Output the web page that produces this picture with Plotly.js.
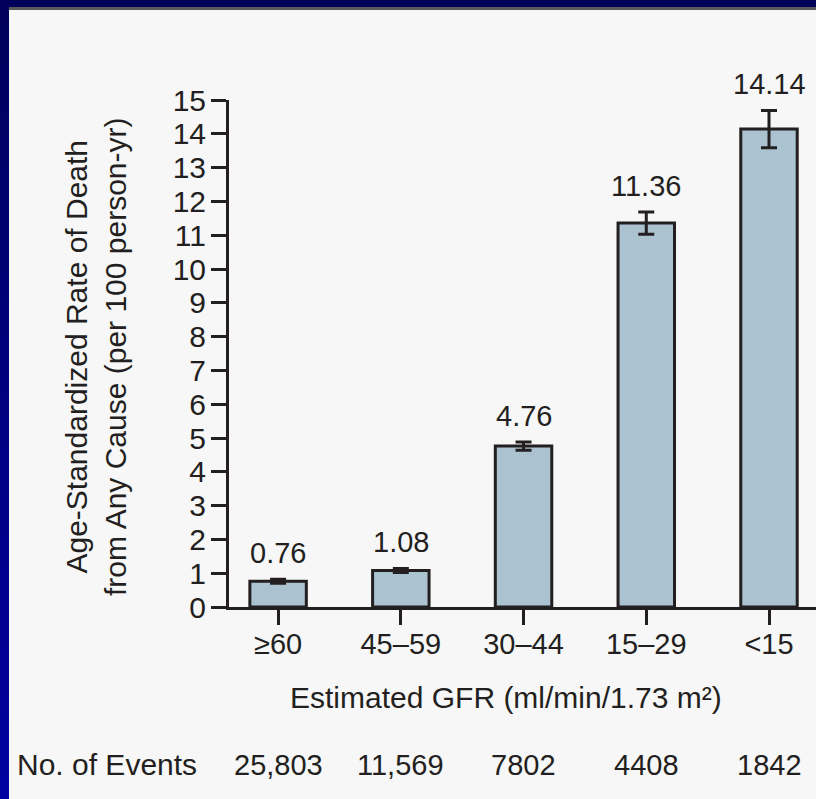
<!DOCTYPE html>
<html><head><meta charset="utf-8">
<script src="https://cdn.plot.ly/plotly-3.0.1.min.js"></script>
<style>
html,body{margin:0;padding:0;width:816px;height:799px;overflow:hidden;background:linear-gradient(to bottom,#00005a 0%,#000080 50%,#0000a0 100%);}
#topline{position:absolute;left:9px;top:7px;width:807px;height:3px;background:#5a5a5a;}
#chart{position:absolute;left:9px;top:10px;width:807px;height:789px;}
</style></head><body>
<div id="topline"></div><div id="chart"></div>
<script>
const categories = ["≥60", "45–59", "30–44", "15–29", "&lt;15"];
const rates = [0.76, 1.08, 4.76, 11.36, 14.14];
const rateErrors = [0.06, 0.06, 0.12, 0.33, 0.55];
const rateLabels = ["0.76", "1.08", "4.76", "11.36", "14.14"];
const eventCounts = ["25,803", "11,569", "7802", "4408", "1842"];
const yTickValues = [0,1,2,3,4,5,6,7,8,9,10,11,12,13,14,15];

const ink = "#231f20";
const font = "Liberation Sans, Arial, sans-serif";
const xIdx = categories.map((_, i) => i);

const trace = {
  type: "bar",
  x: xIdx,
  y: rates,
  width: 0.46,
  marker: {color: "#abc3d0", line: {color: ink, width: 3}},
  error_y: {type: "data", array: rateErrors, visible: true, color: ink, thickness: 3, width: 8},
  hoverinfo: "skip"
};

const annotations = [];
rates.forEach((v, i) => {
  annotations.push({x: i, y: v + rateErrors[i], xref: "x", yref: "y", text: rateLabels[i],
    showarrow: false, yanchor: "middle", yshift: 26, font: {family: font, size: 29, color: ink}});
  annotations.push({x: i, y: -0.311, xref: "x", yref: "paper", text: eventCounts[i],
    showarrow: false, yanchor: "middle", font: {family: font, size: 29, color: ink}});
});
annotations.push({x: -0.3646, y: -0.311, xref: "paper", yref: "paper", text: "No. of Events",
  showarrow: false, xanchor: "left", yanchor: "middle", font: {family: font, size: 30, color: ink}});
annotations.push({x: 1.86, y: -0.178, xref: "x", yref: "paper", text: "Estimated GFR (ml/min/1.73 m²)",
  showarrow: false, yanchor: "middle", font: {family: font, size: 30, color: ink}});
annotations.push({x: -0.2266, y: 0.495, xref: "paper", yref: "paper", textangle: -90,
  text: "Age-Standardized Rate of Death<br>from Any Cause (per 100 person-yr)",
  showarrow: false, xanchor: "center", yanchor: "middle", font: {family: font, size: 30, color: ink}});

const layout = {
  width: 807, height: 789,
  margin: {l: 220, r: 0, t: 90, b: 192, pad: 0},
  paper_bgcolor: "#f7f7f7", plot_bgcolor: "#f7f7f7",
  showlegend: false,
  font: {family: font, size: 29, color: ink},
  xaxis: {range: [-0.4, 4.383], tickvals: xIdx, ticktext: categories,
    showline: true, linewidth: 3, linecolor: ink, ticks: "outside", ticklen: 15, tickwidth: 3, tickcolor: ink,
    ticklabelstandoff: -6,
    showgrid: false, zeroline: false, tickfont: {family: font, size: 29, color: ink}, fixedrange: true},
  yaxis: {range: [0, 15], tickvals: yTickValues, ticktext: yTickValues.map(String),
    showline: true, linewidth: 3, linecolor: ink, ticks: "outside", ticklen: 15, tickwidth: 3, tickcolor: ink,
    ticklabelstandoff: -1,
    showgrid: false, zeroline: false, tickfont: {family: font, size: 30, color: ink}, fixedrange: true},
  annotations: annotations
};

Plotly.newPlot("chart", [trace], layout, {staticPlot: true, displayModeBar: false});
</script>
</body></html>
